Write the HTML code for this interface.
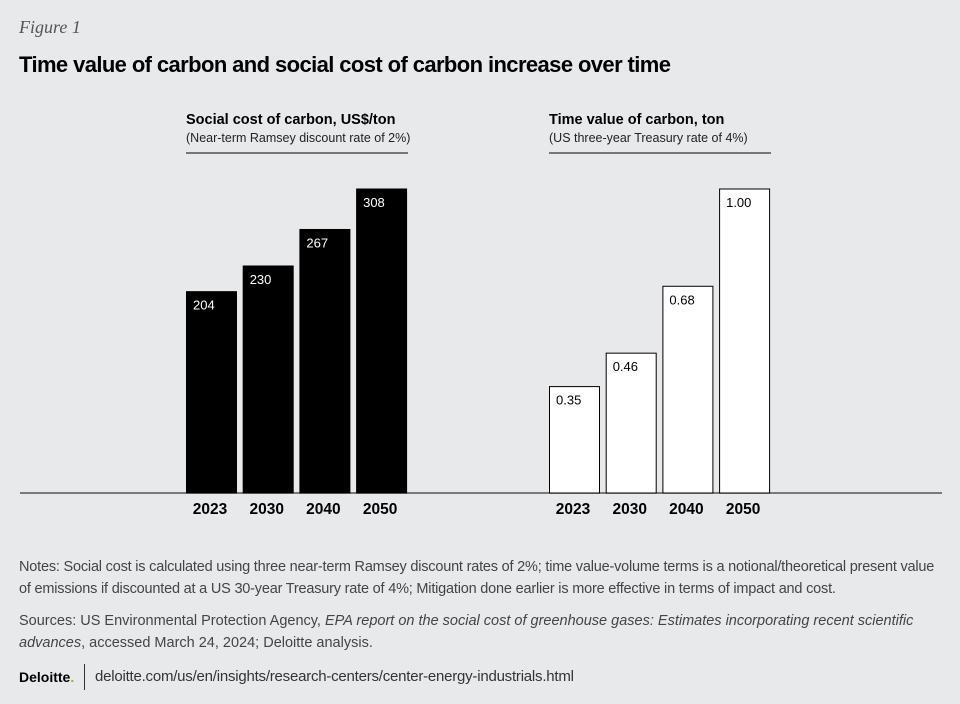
<!DOCTYPE html>
<html><head><meta charset="utf-8"><style>
body{margin:0;width:960px;height:704px;background:#e8e9eb;font-family:"Liberation Sans",sans-serif;overflow:hidden;position:relative}
.a{position:absolute;white-space:nowrap}
</style></head><body>
<div class="a" style="left:19px;top:17px;font-family:'Liberation Serif',serif;font-style:italic;font-size:18px;color:#555">Figure 1</div>
<div class="a" style="left:19px;top:52px;font-size:22px;font-weight:bold;color:#000;letter-spacing:-0.6px">Time value of carbon and social cost of carbon increase over time</div>
<svg class="a" style="left:0;top:0" width="960" height="540" id="chart"></svg>
<div class="a" style="left:19px;top:556px;font-size:14.5px;line-height:22px;color:#444;letter-spacing:-0.2px">Notes: Social cost is calculated using three near-term Ramsey discount rates of 2%; time value-volume terms is a notional/theoretical present value<br>of emissions if discounted at a US 30-year Treasury rate of 4%; Mitigation done earlier is more effective in terms of impact and cost.</div>
<div class="a" style="left:19px;top:610px;font-size:14.5px;line-height:22px;color:#444;letter-spacing:0px">Sources: US Environmental Protection Agency, <i>EPA report on the social cost of greenhouse gases: Estimates incorporating recent scientific</i><br><i>advances</i>, accessed March 24, 2024; Deloitte analysis.</div>
<div class="a" style="left:19px;top:669px;font-size:14px;font-weight:bold;color:#000">Deloitte<span style="color:#86bc25">.</span></div>
<div class="a" style="left:84px;top:664px;width:1px;height:26px;background:#333"></div>
<a class="a" style="left:95px;top:668px;font-size:15px;color:#333;text-decoration:none;letter-spacing:-0.22px">deloitte.com/us/en/insights/research-centers/center-energy-industrials.html</a>
<script>
const years=["2023","2030","2040","2050"];
const socialCost=[204,230,267,308];
const socialLabels=["204","230","267","308"];
const timeValue=[0.35,0.46,0.68,1.00];
const timeLabels=["0.35","0.46","0.68","1.00"];
const svg=document.getElementById('chart');
const NS='http://www.w3.org/2000/svg';
const base=493,H=304;
function el(t,a){const e=document.createElementNS(NS,t);for(const k in a)e.setAttribute(k,a[k]);svg.appendChild(e);return e;}
const ax=el('line',{x1:20,x2:942,y1:base,y2:base,stroke:'#555','stroke-width':1.5});


function panel(x0,vals,labels,max,fill,txt,title,sub,key){
 const y=v=>base-v/max*H;
 const t=el('text',{x:x0,y:124,'font-size':14.5,'font-weight':'bold',fill:'#000'});t.textContent=title;
 
 
 const s=el('text',{x:x0,y:142,'font-size':12.5,fill:'#222'});s.textContent=sub;
 
 
 const l=el('line',{x1:x0,x2:x0+222,y1:153,y2:153,stroke:'#777','stroke-width':2});
 
 
 vals.forEach((v,i)=>{
  const x=x0+i*56.7;
  const r=el('rect',{x:x+0.5,y:y(v),width:50,height:base-y(v),fill:fill,stroke:'#000','stroke-width':1});
  
  
  const vt=el('text',{x:x+7,y:y(v)+18,'font-size':13,fill:txt});vt.textContent=labels[i];
  
  
  const yt=el('text',{x:x+24,y:514,'font-size':15.5,'font-weight':'bold','text-anchor':'middle',fill:'#000'});yt.textContent=years[i];
  
  
 });
}
panel(186,socialCost,socialLabels,308,'#000','#fff','Social cost of carbon, US$/ton','(Near-term Ramsey discount rate of 2%)','social-cost');
panel(549,timeValue,timeLabels,1.0,'#fff','#000','Time value of carbon, ton','(US three-year Treasury rate of 4%)','time-value');
</script>
</body></html>
